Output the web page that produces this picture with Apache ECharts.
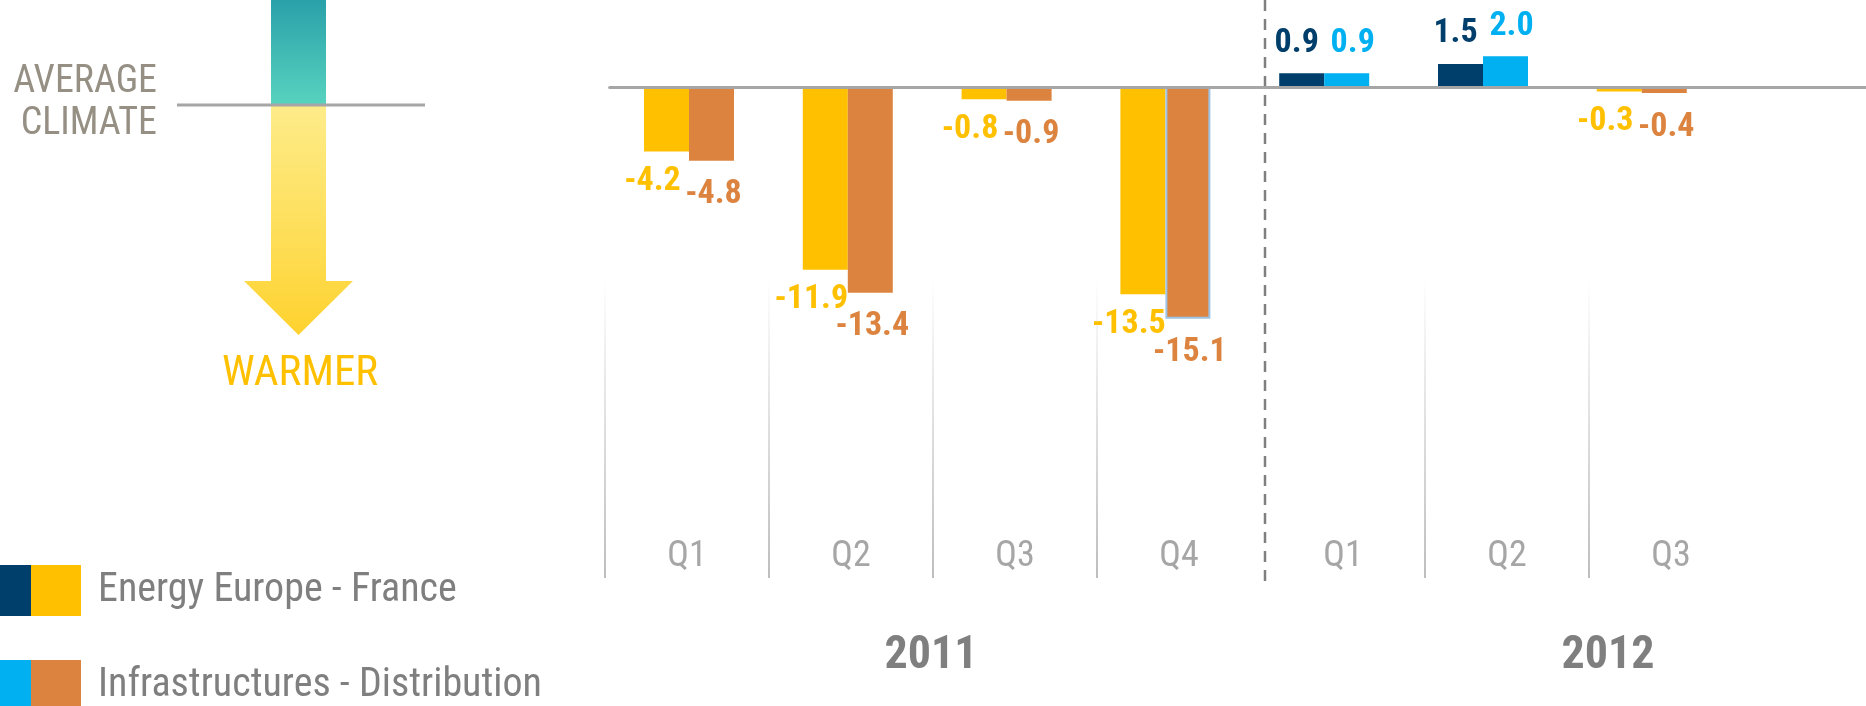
<!DOCTYPE html>
<html><head><meta charset="utf-8">
<script src="https://cdn.jsdelivr.net/npm/echarts@6/dist/echarts.min.js"></script>
<style>html,body{margin:0;padding:0;background:#fff}#c{width:1866px;height:706px}</style>
</head><body><div id="c"></div>
<script>
// ---- data ----
const periods = ['2011 Q1','2011 Q2','2011 Q3','2011 Q4','2012 Q1','2012 Q2','2012 Q3'];
const quarterLabels = ['Q1','Q2','Q3','Q4','Q1','Q2','Q3'];
const years = ['2011','2012'];
const seriesNames = ['Energy Europe - France','Infrastructures - Distribution'];
const energyEurope = [-4.2, -11.9, -0.8, -13.5, 0.9, 1.5, -0.3];
const infrastructures = [-4.8, -13.4, -0.9, -15.1, 0.9, 2.0, -0.4];

// ---- styles ----
const C = { ePos:'#003f6b', eNeg:'#ffc000', iPos:'#00b0f0', iNeg:'#dc843f' };
const NARROW = "'Roboto Condensed','Open Sans Condensed',sans-serif";
const G = echarts.graphic;

function barData(values, pos, neg, posOffset, negOffset, negDist) {
  return values.map(function (v) {
    const p = v >= 0;
    return {
      value: v,
      itemStyle: { color: p ? pos : neg },
      label: {
        position: p ? 'top' : 'bottom',
        color: p ? pos : neg,
        distance: p ? 13 : negDist,
        offset: [p ? posOffset : negOffset, 0]
      }
    };
  });
}
const eData = barData(energyEurope, C.ePos, C.eNeg, -5, -14, 13);
const iData = barData(infrastructures, C.iPos, C.iNeg, 6, 2, 17);
// outlined (selected) bar as in the reference
iData[3].itemStyle.borderColor = '#9dc3e6';
iData[3].itemStyle.borderWidth = 2;

function twoTone(a, b) {
  return new G.LinearGradient(0, 0, 1, 0, [
    { offset: 0, color: a }, { offset: 0.383, color: a },
    { offset: 0.383, color: b }, { offset: 1, color: b }
  ]);
}
const sepGrad = new G.LinearGradient(0, 0, 0, 1, [
  { offset: 0, color: 'rgba(190,190,190,0)' }, { offset: 1, color: '#bdbdbd' }
]);

const labelStyle = { show: true, fontFamily: NARROW, fontWeight: 'bold', fontSize: 34,
  formatter: function (p) { return p.value.toFixed(1); } };

function legendFor(i, top, c1, c2) {
  return {
    orient: 'vertical', left: 0, top: top, padding: 0, itemWidth: 81, itemHeight: 51,
    icon: 'rect', selectedMode: false,
    textStyle: { fontSize: 40, color: '#7f7f7f', fontFamily: NARROW, padding: [0, 0, 0, 12] },
    data: [{ name: seriesNames[i], itemStyle: { color: twoTone(c1, c2), borderWidth: 0 } }]
  };
}

const hidden = { axisLine: { show: false }, axisTick: { show: false }, axisLabel: { show: false }, splitLine: { show: false } };

const chart = echarts.init(document.getElementById('c'));
chart.setOption({
  animation: false,
  grid: [
    { left: 609.6, top: 1, height: 393, width: 158.8 * 7 },   // bars
    { left: 605, top: 280, height: 298, width: 164 * 7 },     // quarter labels + separators
    { left: 931, top: 280, height: 298, width: 677 },         // year labels
    { left: 609.6, top: 1, height: 393, right: 0 }            // zero line across full width
  ],
  xAxis: [
    Object.assign({ gridIndex: 0, type: 'category', data: periods }, hidden),
    { gridIndex: 1, type: 'category', data: periods,
      axisLine: { show: false }, axisTick: { show: false },
      axisLabel: { inside: true, margin: 3, color: '#a6a6a6', fontSize: 36, fontFamily: NARROW,
        formatter: function (v, i) { return quarterLabels[i]; } },
      splitLine: { show: true, lineStyle: { width: 2,
        color: [sepGrad, sepGrad, sepGrad, sepGrad, 'rgba(0,0,0,0)', sepGrad, sepGrad, 'rgba(0,0,0,0)'] } } },
    { gridIndex: 2, type: 'category', data: years, boundaryGap: false,
      axisLine: { show: false }, axisTick: { show: false }, splitLine: { show: false },
      axisLabel: { margin: 55, color: '#7f7f7f', fontSize: 46, fontWeight: 'bold', fontFamily: NARROW } },
    { gridIndex: 3, type: 'value', z: 3,
      axisLine: { show: true, onZero: true, lineStyle: { color: '#a6a6a6', width: 3 } },
      axisTick: { show: false }, axisLabel: { show: false }, splitLine: { show: false } }
  ],
  yAxis: [
    { gridIndex: 0, type: 'value', min: -20, max: 5.6, show: false },
    { gridIndex: 1, type: 'value', show: false },
    { gridIndex: 2, type: 'value', show: false },
    Object.assign({ gridIndex: 3, type: 'value', min: -20, max: 5.6 }, hidden)
  ],
  legend: [
    legendFor(0, 565, C.ePos, C.eNeg),
    legendFor(1, 660, C.iPos, C.iNeg)
  ],
  series: [
    { name: seriesNames[0], type: 'bar', xAxisIndex: 0, yAxisIndex: 0, barWidth: 45, barGap: '0%',
      data: eData, label: labelStyle },
    { name: seriesNames[1], type: 'bar', xAxisIndex: 0, yAxisIndex: 0, barWidth: 45, barGap: '0%',
      data: iData, label: labelStyle }
  ],
  graphic: [
    { type: 'rect', shape: { x: 271, y: 0, width: 55, height: 105 },
      style: { fill: new G.LinearGradient(0, 0, 0, 1, [{ offset: 0, color: '#2aa0a9' }, { offset: 1, color: '#58d3bf' }]) } },
    { type: 'polygon',
      shape: { points: [[271, 105], [326, 105], [326, 281], [353, 281], [298.5, 335], [244, 281], [271, 281]] },
      style: { fill: new G.LinearGradient(0, 0, 0, 1, [{ offset: 0, color: '#fdec8a' }, { offset: 0.7, color: '#fedb4c' }, { offset: 1, color: '#fed22e' }]) } },
    { type: 'line', shape: { x1: 177, y1: 105, x2: 425, y2: 105 }, style: { stroke: '#a6a6a6', lineWidth: 3 } },
    { type: 'text', x: 157, y: 82, style: { text: 'AVERAGE', align: 'right', verticalAlign: 'middle',
      fontSize: 38, fontFamily: NARROW, fill: '#958f84' } },
    { type: 'text', x: 157, y: 124, style: { text: 'CLIMATE', align: 'right', verticalAlign: 'middle',
      fontSize: 38, fontFamily: NARROW, fill: '#958f84' } },
    { type: 'text', x: 300, y: 374, style: { text: 'WARMER', align: 'center', verticalAlign: 'middle',
      fontSize: 43, fontFamily: NARROW, fill: '#ffc000' } },
    { type: 'line', shape: { x1: 1265, y1: 0, x2: 1265, y2: 583 },
      style: { stroke: '#7f7f7f', lineWidth: 2.5, lineDash: [11, 8] } }
  ]
});
</script></body></html>
